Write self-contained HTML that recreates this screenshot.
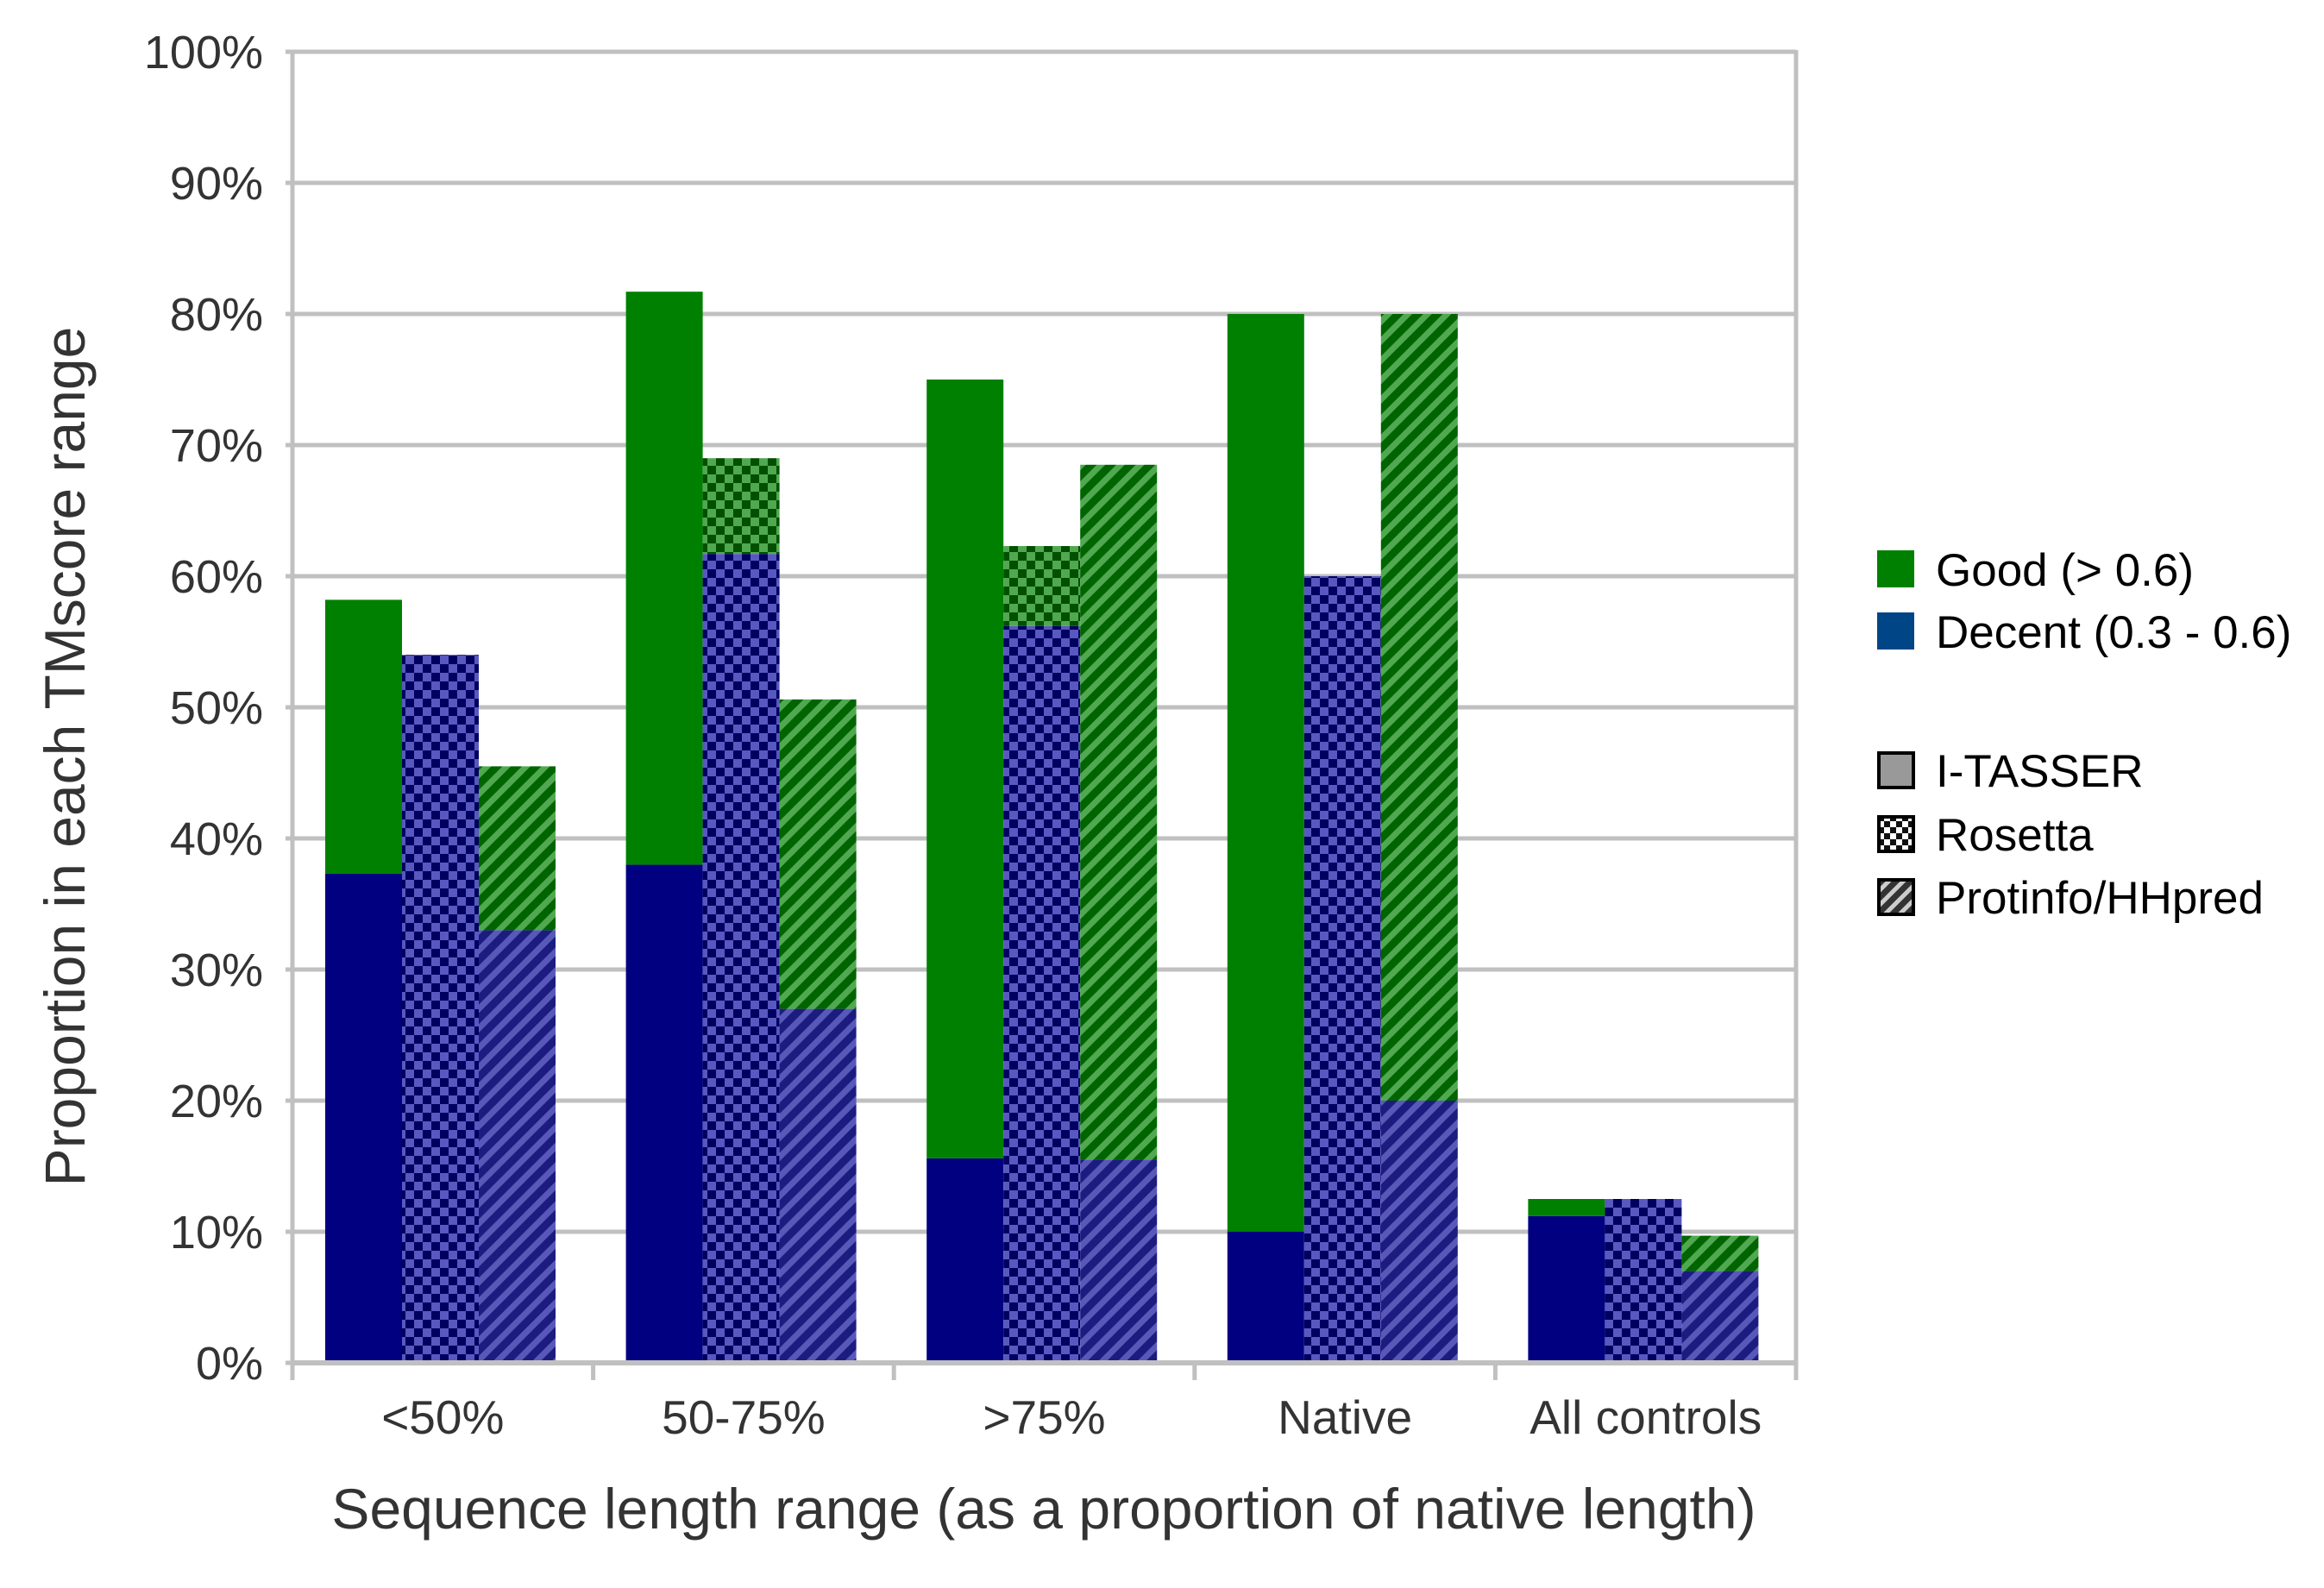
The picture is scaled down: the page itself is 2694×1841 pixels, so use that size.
<!DOCTYPE html>
<html><head><meta charset="utf-8"><style>
html,body{margin:0;padding:0;background:#fff}
svg{display:block}
text{font-family:"Liberation Sans",sans-serif}
</style></head><body>
<svg id="chart" width="2694" height="1841" viewBox="0 0 2694 1841" xmlns="http://www.w3.org/2000/svg">
<defs>
<pattern id="chkB" width="20" height="20" patternUnits="userSpaceOnUse"><rect width="20" height="20" fill="#5858c0"/><rect width="10" height="10" fill="#000060"/><rect x="10" y="10" width="10" height="10" fill="#000060"/></pattern>
<pattern id="chkG" width="20" height="20" patternUnits="userSpaceOnUse"><rect width="20" height="20" fill="#50a850"/><rect width="10" height="10" fill="#005000"/><rect x="10" y="10" width="10" height="10" fill="#005000"/></pattern>
<pattern id="strB" width="16" height="16" patternUnits="userSpaceOnUse" patternTransform="rotate(45)"><rect width="16" height="16" fill="#1c1c80"/><rect width="7" height="16" fill="#5858b8"/></pattern>
<pattern id="strG" width="16" height="16" patternUnits="userSpaceOnUse" patternTransform="rotate(45)"><rect width="16" height="16" fill="#006400"/><rect width="7" height="16" fill="#50a850"/></pattern>
<pattern id="chkK" width="14" height="14" patternUnits="userSpaceOnUse"><rect width="14" height="14" fill="#fff"/><rect width="7" height="7" fill="#111"/><rect x="7" y="7" width="7" height="7" fill="#111"/></pattern>
<pattern id="strK" width="12" height="12" patternUnits="userSpaceOnUse" patternTransform="rotate(45)"><rect width="12" height="12" fill="#333"/><rect width="5" height="12" fill="#ccc"/></pattern>
</defs>
<g id="grid"></g>
<g id="bars"></g>
<g id="axes"></g>
<text x="0" y="0" transform="translate(98,877) rotate(-90)" font-size="66" fill="#333" text-anchor="middle">Proportion in each TMscore range</text>
<text x="1210" y="1772" font-size="66" fill="#333" text-anchor="middle">Sequence length range (as a proportion of native length)</text>
<g>
<rect x="2176" y="638" width="43" height="43" fill="#008000"/>
<text x="2244" y="679" font-size="53" fill="#000">Good (&gt; 0.6)</text>
<rect x="2176" y="710" width="43" height="43" fill="#004586"/>
<text x="2244" y="751" font-size="53" fill="#000">Decent (0.3 - 0.6)</text>
<rect x="2178" y="873" width="40" height="40" fill="#999" stroke="#000" stroke-width="4"/>
<text x="2244" y="912" font-size="53" fill="#000">I-TASSER</text>
<rect x="2178" y="947" width="40" height="40" fill="url(#chkK)" stroke="#000" stroke-width="4"/>
<text x="2244" y="986" font-size="53" fill="#000">Rosetta</text>
<rect x="2178" y="1020" width="40" height="40" fill="url(#strK)" stroke="#000" stroke-width="4"/>
<text x="2244" y="1059" font-size="53" fill="#000">Protinfo/HHpred</text>
</g>
</svg>
<script>
const categories = ["<50%", "50-75%", ">75%", "Native", "All controls"];
const methods = ["itasser", "rosetta", "protinfo"];
const decentItasser = [37.3, 38, 15.6, 10, 11.2];
const totalItasser = [58.2, 81.7, 75, 80, 12.5];
const decentRosetta = [54, 61.7, 56.2, 60, 12.5];
const totalRosetta = [54, 69, 62.3, 60, 12.5];
const decentProtinfo = [33, 27, 15.5, 20, 7];
const totalProtinfo = [45.5, 50.6, 68.5, 80, 9.7];
const yTicks = ["0%","10%","20%","30%","40%","50%","60%","70%","80%","90%","100%"];

const NS = "http://www.w3.org/2000/svg";
const X0 = 339, X1 = 2082, Y0 = 1580, Y100 = 60;
const groupW = (X1 - X0) / categories.length;
const barW = 89, barOff = 38;
function y(v){ return Y0 - (Y0 - Y100) * v / 100; }
function xBar(g, m){ return X0 + g * groupW + barOff + m * barW; }
function mk(tag, attrs, parent){ const e = document.createElementNS(NS, tag); for (const k in attrs) e.setAttribute(k, attrs[k]); parent.appendChild(e); return e; }

const grid = document.getElementById('grid');
const axes = document.getElementById('axes');
const bars = document.getElementById('bars');
yTicks.forEach((t, i) => {
  const v = i * 10;
  const l = mk('line', {x1: X0 - 8, x2: X1, y1: y(v), y2: y(v), stroke: '#c0c0c0', 'stroke-width': 5}, grid);
  
  
  const tx = mk('text', {x: 305, y: y(v) + 19, 'font-size': 54, fill: '#333', 'text-anchor': 'end'}, axes);
  tx.textContent = t;
  
  
});
const ya = mk('line', {x1: X0, x2: X0, y1: Y100 - 2, y2: Y0 + 2, stroke: '#c0c0c0', 'stroke-width': 5}, axes);


const ya2 = mk('line', {x1: X1, x2: X1, y1: Y100 - 2, y2: Y0 + 20, stroke: '#c0c0c0', 'stroke-width': 5}, axes);


for (let g = 0; g <= categories.length; g++) {
  const tk = mk('line', {x1: X0 + g * groupW, x2: X0 + g * groupW, y1: Y0, y2: Y0 + 20, stroke: '#c0c0c0', 'stroke-width': 5}, axes);
  
  
}
categories.forEach((c, g) => {
  const tx = mk('text', {x: X0 + g * groupW + groupW / 2, y: 1662, 'font-size': 55, fill: '#333', 'text-anchor': 'middle'}, axes);
  tx.textContent = c;
  
  
});

const decent = [decentItasser, decentRosetta, decentProtinfo];
const total = [totalItasser, totalRosetta, totalProtinfo];
const fillsD = ['#000080', 'url(#chkB)', 'url(#strB)'];
const fillsG = ['#008000', 'url(#chkG)', 'url(#strG)'];
categories.forEach((c, g) => {
  methods.forEach((m, i) => {
    const d = decent[i][g], t = total[i][g];
    const rd = mk('rect', {x: xBar(g, i), y: y(d), width: barW, height: y(0) - y(d), fill: fillsD[i]}, bars);
    
    
    if (t > d) {
      const rg = mk('rect', {x: xBar(g, i), y: y(t), width: barW, height: y(d) - y(t), fill: fillsG[i]}, bars);
      
      
    }
  });
});
const xa = mk('line', {x1: X0, x2: X1, y1: Y0, y2: Y0, stroke: '#c0c0c0', 'stroke-width': 6}, axes);


</script>
</body></html>
